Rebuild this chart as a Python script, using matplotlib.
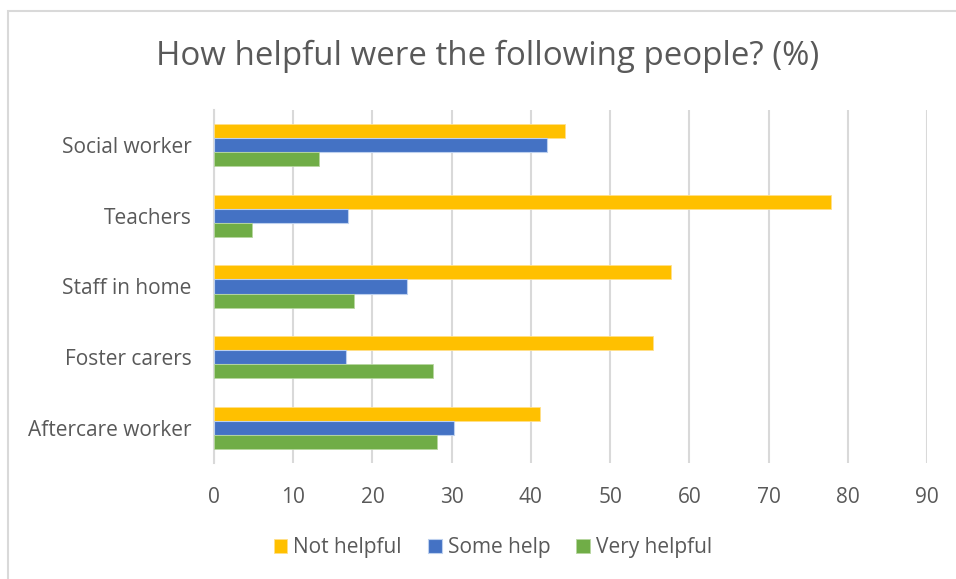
import numpy as np
import matplotlib.pyplot as plt
from matplotlib.patches import Rectangle

categories = ['Social worker', 'Teachers', 'Staff in home', 'Foster carers', 'Aftercare worker']
not_helpful = [44.3, 77.9, 57.7, 55.4, 41.2]
some_help = [42.0, 16.9, 24.3, 16.6, 30.3]
very_helpful = [13.3, 4.8, 17.7, 27.7, 28.2]
xticks = [0, 10, 20, 30, 40, 50, 60, 70, 80, 90]

plt.rcParams['font.family'] = ['Open Sans', 'DejaVu Sans']
txt = '#595959'

fig = plt.figure(figsize=(9.56, 5.79), dpi=100)
# chart frame (only left/top visible in reference)
fig.patches.append(Rectangle((8/956, -0.1), 1.2, 1.1 - 11/579, transform=fig.transFigure,
                             fill=False, edgecolor='#d9d9d9', linewidth=1.5))
ax = fig.add_axes([214/956, 1 - 463/579, (927-214)/956, (463-110)/579])

y = np.arange(len(categories))
h = 0.2
ax.barh(y - h, not_helpful, height=h, color='#FFC000', edgecolor='#FFE08A', linewidth=0.6, label='Not helpful', zorder=3)
ax.barh(y, some_help, height=h, color='#4472C4', edgecolor='#BDD0EE', linewidth=0.8, label='Some help', zorder=3)
ax.barh(y + h, very_helpful, height=h, color='#70AD47', edgecolor='#B7D7A0', linewidth=0.6, label='Very helpful', zorder=3)

ax.set_xlim(0, 90)
ax.set_ylim(4.5, -0.5)
ax.set_xticks(xticks)
ax.set_yticks(y)
ax.set_yticklabels(categories)
ax.grid(axis='x', color='#d9d9d9', linewidth=1.5, zorder=0)
for s in ['top', 'right', 'bottom']:
    ax.spines[s].set_visible(False)
ax.spines['left'].set_color('#d9d9d9')
ax.spines['left'].set_linewidth(1.5)
ax.tick_params(axis='both', length=0, labelsize=15, labelcolor=txt)
ax.tick_params(axis='y', pad=16)
ax.tick_params(axis='x', pad=17)

fig.text(0.51, 1 - 56/579, 'How helpful were the following people? (%)', ha='center', va='center',
         fontsize=23.8, color=txt)

leg = ax.legend(loc='center', bbox_to_anchor=(493/956, 1 - 548/579), bbox_transform=fig.transFigure,
                ncol=3, frameon=False, fontsize=15, handlelength=0.65, handleheight=0.65,
                handletextpad=0.3, columnspacing=1.25, labelcolor=txt)

fig.savefig('out.png', dpi=100)
